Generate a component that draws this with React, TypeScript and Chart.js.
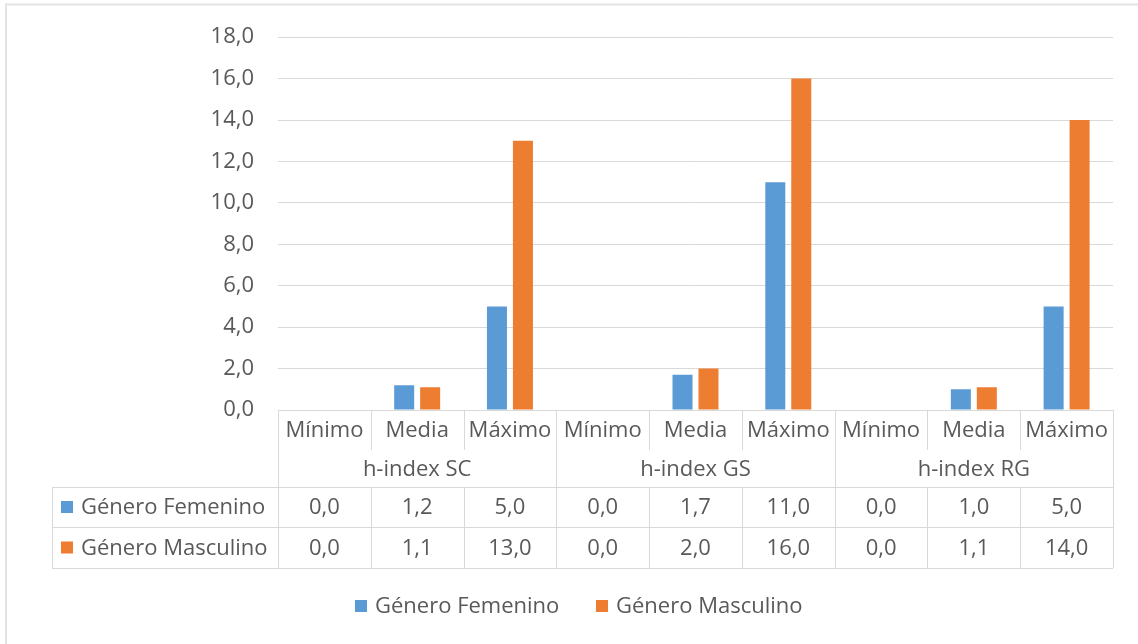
import { useEffect, useRef } from 'react';
import { Chart, registerables } from 'chart.js';

Chart.register(...registerables);

const subCategories = ['Mínimo', 'Media', 'Máximo', 'Mínimo', 'Media', 'Máximo', 'Mínimo', 'Media', 'Máximo'];
const groups = ['h-index SC', 'h-index GS', 'h-index RG'];
const seriesNames = ['Género Femenino', 'Género Masculino'];
const femenino = [0.0, 1.2, 5.0, 0.0, 1.7, 11.0, 0.0, 1.0, 5.0];
const masculino = [0.0, 1.1, 13.0, 0.0, 2.0, 16.0, 0.0, 1.1, 14.0];
const yTicks = [0, 2, 4, 6, 8, 10, 12, 14, 16, 18];

const BLUE = '#5b9bd5';
const ORANGE = '#ed7d31';
const TEXT = '#595959';
const LINE = '#d9d9d9';
const FONT = "'Open Sans', sans-serif";
const FONT_SIZE = 22;

const fmt = (v: number) => v.toFixed(1).replace('.', ',');

export default function App() {
  const ref = useRef<HTMLCanvasElement>(null);

  useEffect(() => {
    const canvas = ref.current;
    if (!canvas) return;

    const tablePlugin = {
      id: 'excelTable',
      beforeDraw(chart: any) {
        const ctx = chart.ctx;
        ctx.save();
        ctx.fillStyle = '#ffffff';
        ctx.fillRect(0, 0, chart.width, chart.height);
        ctx.strokeStyle = '#e3e3e3';
        ctx.lineWidth = 2;
        ctx.beginPath();
        ctx.moveTo(6, chart.height + 5);
        ctx.lineTo(6, 4.5);
        ctx.lineTo(chart.width + 5, 4.5);
        ctx.stroke();
        ctx.restore();
      },
      afterDraw(chart: any) {
        const ctx = chart.ctx;
        const x = chart.scales.x;
        const area = chart.chartArea;
        const n = subCategories.length;
        const left = area.left;
        const right = area.right;
        const slot = (right - left) / n;
        const bound = (k: number) => left + k * slot;

        const y0 = area.bottom; // 410
        const yCat = y0 + 40; // 450
        const yGrp = y0 + 77; // 487
        const yF = y0 + 117; // 527
        const yM = y0 + 158; // 568
        const tableLeft = 52;

        ctx.save();
        ctx.strokeStyle = LINE;
        ctx.lineWidth = 1;
        const hline = (x1: number, x2: number, yy: number) => {
          ctx.beginPath();
          ctx.moveTo(x1, Math.round(yy) + 0.5);
          ctx.lineTo(x2, Math.round(yy) + 0.5);
          ctx.stroke();
        };
        const vline = (xx: number, y1: number, y2: number) => {
          ctx.beginPath();
          ctx.moveTo(Math.round(xx) + 0.5, y1);
          ctx.lineTo(Math.round(xx) + 0.5, y2);
          ctx.stroke();
        };

        hline(tableLeft, right, yGrp);
        hline(tableLeft, right, yF);
        hline(tableLeft, right, yM);
        vline(tableLeft, yGrp, yM);
        for (let k = 0; k <= n; k++) {
          const xx = bound(k);
          if (k % 3 === 0) {
            vline(xx, y0, yM);
          } else {
            vline(xx, y0, yCat);
            vline(xx, yGrp, yM);
          }
        }

        ctx.fillStyle = TEXT;
        ctx.font = `${FONT_SIZE}px ${FONT}`;
        ctx.textAlign = 'center';
        ctx.textBaseline = 'middle';
        for (let i = 0; i < n; i++) {
          const cx = x.getPixelForValue(i);
          ctx.fillText(subCategories[i], cx, (y0 + yCat) / 2 + 1);
          ctx.fillText(fmt(femenino[i]), cx, (yGrp + yF) / 2 + 1);
          ctx.fillText(fmt(masculino[i]), cx, (yF + yM) / 2 + 1);
        }
        groups.forEach((g, gi) => {
          const cx = (bound(gi * 3) + bound(gi * 3 + 3)) / 2;
          ctx.fillText(g, cx, (yCat + yGrp) / 2 + 1);
        });

        // row labels with keys
        const rows = [
          { name: seriesNames[0], color: BLUE, cy: (yGrp + yF) / 2 },
          { name: seriesNames[1], color: ORANGE, cy: (yF + yM) / 2 },
        ];
        ctx.textAlign = 'left';
        rows.forEach((r) => {
          ctx.fillStyle = r.color;
          ctx.fillRect(61, r.cy - 6, 12, 12);
          ctx.fillStyle = TEXT;
          ctx.fillText(r.name, 81, r.cy + 1);
        });

        // legend
        const ly = 606;
        const items = [
          { name: seriesNames[0], color: BLUE, x: 355 },
          { name: seriesNames[1], color: ORANGE, x: 596 },
        ];
        items.forEach((it) => {
          ctx.fillStyle = it.color;
          ctx.fillRect(it.x, ly - 6, 12, 12);
          ctx.fillStyle = TEXT;
          ctx.fillText(it.name, it.x + 20, ly + 1);
        });
        ctx.restore();
      },
    };

    const chart = new Chart(canvas, {
      type: 'bar',
      data: {
        labels: subCategories,
        datasets: [
          {
            label: seriesNames[0],
            data: femenino,
            backgroundColor: BLUE,
            borderWidth: 0,
            categoryPercentage: 0.56,
            barPercentage: 0.77,
          },
          {
            label: seriesNames[1],
            data: masculino,
            backgroundColor: ORANGE,
            borderWidth: 0,
            categoryPercentage: 0.56,
            barPercentage: 0.77,
          },
        ],
      },
      options: {
        responsive: false,
        animation: false,
        devicePixelRatio: 1,
        layout: { padding: { top: 35, right: 25, left: 0, bottom: 76 } },
        plugins: {
          legend: { display: false },
          tooltip: { enabled: false },
        },
        scales: {
          x: {
            grid: { display: false },
            border: { display: false },
            ticks: { display: false },
            afterFit: (scale: any) => {
              scale.height = 158;
            },
          },
          y: {
            min: 0,
            max: 18,
            afterBuildTicks: (scale: any) => {
              scale.ticks = yTicks.map((v) => ({ value: v }));
            },
            grid: { color: LINE, lineWidth: 1, drawTicks: false },
            border: { display: false },
            ticks: {
              padding: 24,
              color: TEXT,
              font: { family: FONT, size: FONT_SIZE },
              callback: (v: any) => fmt(Number(v)),
            },
            afterFit: (scale: any) => {
              scale.width = 278;
            },
          },
        },
      },
      plugins: [tablePlugin],
    });

    return () => chart.destroy();
  }, []);

  return (
    <div style={{ position: 'absolute', left: 0, top: 0, width: 1138, height: 644, background: '#fff' }}>
      <canvas ref={ref} width={1138} height={644} style={{ display: 'block', width: 1138, height: 644 }} />
    </div>
  );
}
